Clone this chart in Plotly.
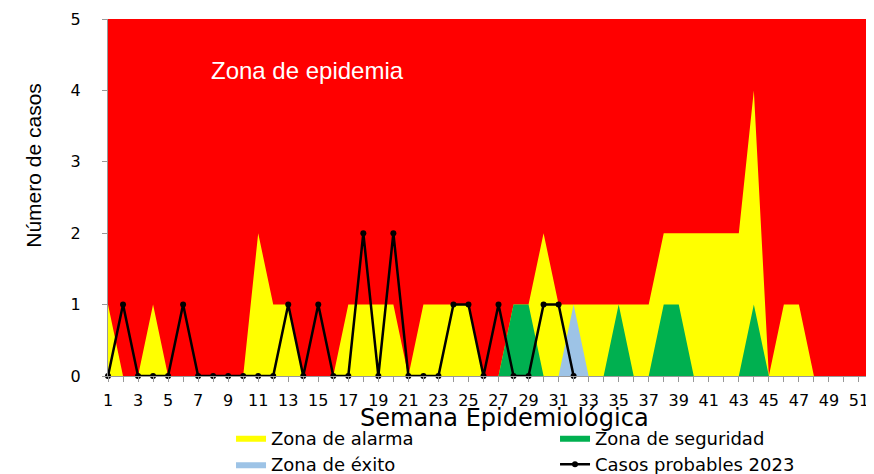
import plotly.graph_objects as go

# ---- data ----
semanas = [1, 2, 3, 4, 5, 6, 7, 8, 9, 10, 11, 12, 13, 14, 15, 16, 17, 18, 19, 20,
           21, 22, 23, 24, 25, 26, 27, 28, 29, 30, 31, 32, 33, 34, 35, 36, 37, 38, 39, 40,
           41, 42, 43, 44, 45, 46, 47, 48, 49, 50, 51, 52]

zona_epidemia = [5, 5, 5, 5, 5, 5, 5, 5, 5, 5, 5, 5, 5, 5, 5, 5, 5, 5, 5, 5,
                 5, 5, 5, 5, 5, 5, 5, 5, 5, 5, 5, 5, 5, 5, 5, 5, 5, 5, 5, 5,
                 5, 5, 5, 5, 5, 5, 5, 5, 5, 5, 5, 5]

zona_alarma = [1, 0, 0, 1, 0, 0, 0, 0, 0, 0, 2, 1, 1, 0, 0, 0, 1, 1, 1, 1,
               0, 1, 1, 1, 1, 0, 0, 1, 1, 2, 1, 1, 1, 1, 1, 1, 1, 2, 2, 2,
               2, 2, 2, 4, 0, 1, 1, 0, 0, 0, 0, 0]

zona_seguridad = [0, 0, 0, 0, 0, 0, 0, 0, 0, 0, 0, 0, 0, 0, 0, 0, 0, 0, 0, 0,
                  0, 0, 0, 0, 0, 0, 0, 1, 1, 0, 0, 0, 0, 0, 1, 0, 0, 1, 1, 0,
                  0, 0, 0, 1, 0, 0, 0, 0, 0, 0, 0, 0]

zona_exito = [0, 0, 0, 0, 0, 0, 0, 0, 0, 0, 0, 0, 0, 0, 0, 0, 0, 0, 0, 0,
              0, 0, 0, 0, 0, 0, 0, 0, 0, 0, 0, 1, 0, 0, 0, 0, 0, 0, 0, 0,
              0, 0, 0, 0, 0, 0, 0, 0, 0, 0, 0, 0]

semanas_2023 = [1, 2, 3, 4, 5, 6, 7, 8, 9, 10, 11, 12, 13, 14, 15, 16,
                17, 18, 19, 20, 21, 22, 23, 24, 25, 26, 27, 28, 29, 30, 31, 32]
casos_2023 = [0, 1, 0, 0, 0, 1, 0, 0, 0, 0, 0, 0, 1, 0, 1, 0,
              0, 2, 0, 2, 0, 0, 0, 1, 1, 0, 1, 0, 0, 1, 1, 0]

x_tick_vals = [1, 3, 5, 7, 9, 11, 13, 15, 17, 19, 21, 23, 25, 27, 29, 31, 33,
               35, 37, 39, 41, 43, 45, 47, 49, 51]
y_tick_vals = [0, 1, 2, 3, 4, 5]

FONT = "DejaVu Sans, Verdana, sans-serif"

fig = go.Figure()

fig.add_trace(go.Scatter(x=semanas, y=zona_epidemia, mode="lines", fill="tozeroy",
                         fillcolor="#FF0000", line=dict(width=0, color="#FF0000"),
                         name="Zona de epidemia", showlegend=False, hoverinfo="skip"))
fig.add_trace(go.Scatter(x=semanas, y=zona_alarma, mode="lines", fill="tozeroy",
                         fillcolor="#FFFF00", line=dict(width=0, color="#FFFF00"),
                         name="Zona de alarma"))
fig.add_trace(go.Scatter(x=semanas, y=zona_seguridad, mode="lines", fill="tozeroy",
                         fillcolor="#00B050", line=dict(width=0, color="#00B050"),
                         name="Zona de seguridad"))
fig.add_trace(go.Scatter(x=semanas, y=zona_exito, mode="lines", fill="tozeroy",
                         fillcolor="#9DC3E6", line=dict(width=0, color="#9DC3E6"),
                         name="Zona de éxito"))
fig.add_trace(go.Scatter(x=semanas_2023, y=casos_2023, mode="lines+markers",
                         line=dict(width=2.5, color="#000000"),
                         marker=dict(size=6, color="#000000"),
                         name="Casos probables 2023", cliponaxis=False))

fig.add_annotation(text="Zona de epidemia", x=0.261, y=0.855, xref="paper", yref="paper",
                   xanchor="center", yanchor="middle",
                   showarrow=False, font=dict(family="Liberation Sans, Arial", size=24, color="white"))
fig.add_annotation(text="Número de casos", x=-0.0966, y=0.589, xref="paper", yref="paper",
                   xanchor="center", yanchor="middle",
                   textangle=-90, showarrow=False,
                   font=dict(family="Liberation Sans Narrow, Arial Narrow, Liberation Sans", size=21, color="#000"))
fig.add_annotation(text="Semana Epidemiológica", x=0.518, y=-0.117, xref="paper", yref="paper",
                   xanchor="center", yanchor="middle",
                   showarrow=False, font=dict(family=FONT, size=24, color="#000"))

fig.update_xaxes(range=[1, 52], tickmode="array", tickvals=x_tick_vals,
                 ticktext=[str(v) for v in x_tick_vals],
                 ticks="outside", ticklen=5, tickcolor="#999999",
                 minor=dict(dtick=1, tick0=1, ticks="outside", ticklen=5, tickcolor="#999999"),
                 showline=True, linecolor="#999999", linewidth=1,
                 showgrid=False, zeroline=False, automargin=False,
                 tickfont=dict(family=FONT, size=16, color="#000"), ticklabelstandoff=5)
fig.update_yaxes(range=[0, 5], tickmode="array", tickvals=y_tick_vals,
                 ticks="outside", ticklen=5, tickcolor="#999999",
                 showline=True, linecolor="#999999", linewidth=1,
                 showgrid=False, zeroline=False, automargin=False,
                 tickfont=dict(family=FONT, size=16, color="#000"), ticklabelstandoff=18)

# the page body adds an 8 px offset, so the figure is sized/margined to compensate
fig.update_layout(
    width=866, height=466,
    margin=dict(l=100, r=0, t=11, b=98, autoexpand=False),
    plot_bgcolor="white", paper_bgcolor="white",
    legend=dict(orientation="h", x=0.1606, xanchor="left", y=-0.122, yanchor="top",
                entrywidth=279, entrywidthmode="pixels",
                font=dict(family=FONT, size=18, color="#000"),
                bgcolor="rgba(0,0,0,0)"),
)

fig.write_html("out.html")
